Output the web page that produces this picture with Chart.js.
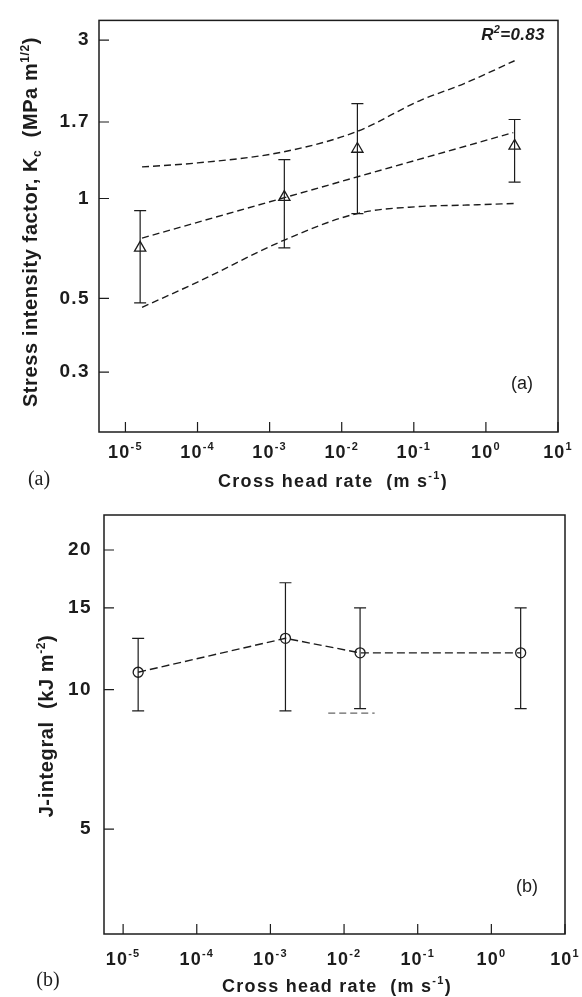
<!DOCTYPE html>
<html>
<head>
<meta charset="utf-8">
<script src="https://cdn.jsdelivr.net/npm/chart.js@4.4.1/dist/chart.umd.min.js"></script>
<style>
  html, body { margin: 0; padding: 0; background: #fff; }
  #wrap { position: relative; width: 582px; height: 997px; }
  canvas { position: absolute; left: 0; }
</style>
</head>
<body>
<div id="wrap">
  <canvas id="chartA" width="582" height="490" style="top:0"></canvas>
  <canvas id="chartB" width="582" height="507" style="top:490px"></canvas>
</div>
<script>
// shared x axis
const rates = [1.6e-5, 1.6e-3, 1.65e-2, 2.5];
const xTickValues = [1e-5, 1e-4, 1e-3, 1e-2, 1e-1, 1e0, 1e1];
const xTickExps = ["-5", "-4", "-3", "-2", "-1", "0", "1"];

// panel (a) : stress intensity factor
const kcMean = [0.71, 1.01, 1.41, 1.44];
const kcHigh = [0.92, 1.31, 1.93, 1.73];
const kcLow = [0.485, 0.71, 0.90, 1.12];
const fitRates = [1.7e-5, 2.4];
const fitKc = [0.76, 1.58];
const bandRates = [1.7e-5, 1e-4, 1.5e-3, 1.6e-2, 0.12, 0.5, 2.5];
const bandUpper = [1.245, 1.28, 1.38, 1.59, 1.97, 2.22, 2.6];
const bandLower = [0.47, 0.56, 0.745, 0.90, 0.946, 0.955, 0.966];
const kcTicks = [0.3, 0.5, 1, 1.7, 3];
const kcTickLabels = ["0.3", "0.5", "1", "1.7", "3"];

// panel (b) : J-integral
const jMean = [10.9, 12.9, 12.0, 12.0];
const jHigh = [12.9, 17.0, 15.0, 15.0];
const jLow = [9.0, 9.0, 9.1, 9.1];
const jTicks = [5, 10, 15, 20];
const jTickLabels = ["5", "10", "15", "20"];
const strayRates = [6.1e-3, 2.6e-2];
const strayJ = [8.9, 8.9];

const ink = "#1c1c1c";
const family = "'Liberation Sans', Arial, sans-serif";

const pts = (xs, ys) => xs.map((x, i) => ({x, y: ys[i]}));

// texts drawn after each chart, keyed by canvas id (functions in options would be scriptable)
const notesById = {};

function richText(ctx, parts, cx, cy, size, weight, spacing, angle) {
  ctx.save();
  ctx.translate(cx, cy);
  ctx.rotate(angle || 0);
  ctx.letterSpacing = spacing + "px";
  ctx.textBaseline = "alphabetic";
  ctx.textAlign = "left";
  ctx.fillStyle = ink;
  const fontFor = kind => `${weight} ${kind ? Math.round(size * 0.62) : size}px ${family}`;
  const widths = parts.map(([t, kind]) => {
    ctx.font = fontFor(kind);
    return ctx.measureText(t).width;
  });
  let xPos = -widths.reduce((s, w) => s + w, 0) / 2;
  parts.forEach(([t, kind], i) => {
    ctx.font = fontFor(kind);
    const dy = kind === "sup" ? -size * 0.42 : kind === "sub" ? size * 0.22 : 0;
    ctx.fillText(t, xPos, dy);
    xPos += widths[i];
  });
  ctx.restore();
}

function plainText(ctx, text, cx, cy, font) {
  ctx.save();
  ctx.letterSpacing = "0px";
  ctx.font = font;
  ctx.fillStyle = ink;
  ctx.textAlign = "center";
  ctx.textBaseline = "middle";
  ctx.fillText(text, cx, cy);
  ctx.restore();
}

// box, inward tick marks, error bars, then the texts
const framePlugin = {
  id: "frame",
  beforeDraw(chart) {
    chart.ctx.letterSpacing = "1.4px";
  },
  beforeDatasetsDraw(chart) {
    const {ctx, chartArea: a, scales: {x, y}} = chart;
    ctx.letterSpacing = "0px";
    ctx.save();
    ctx.strokeStyle = ink;
    ctx.lineWidth = 1.5;
    ctx.strokeRect(a.left, a.top, a.right - a.left, a.bottom - a.top);
    ctx.lineWidth = 1.2;
    ctx.beginPath();
    x.ticks.forEach(t => {
      const px = x.getPixelForValue(t.value);
      ctx.moveTo(px, a.bottom);
      ctx.lineTo(px, a.bottom - 10);
    });
    y.ticks.forEach(t => {
      const py = y.getPixelForValue(t.value);
      ctx.moveTo(a.left, py);
      ctx.lineTo(a.left + 10, py);
    });
    chart.data.datasets.forEach(ds => {
      if (!ds.errHigh) return;
      ds.data.forEach((p, i) => {
        const px = x.getPixelForValue(p.x);
        const top = y.getPixelForValue(ds.errHigh[i]);
        const bot = y.getPixelForValue(ds.errLow[i]);
        ctx.moveTo(px, top); ctx.lineTo(px, bot);
        ctx.moveTo(px - 6, top); ctx.lineTo(px + 6, top);
        ctx.moveTo(px - 6, bot); ctx.lineTo(px + 6, bot);
      });
    });
    ctx.stroke();
    ctx.restore();
  },
  afterDraw(chart) {
    const {ctx, scales: {x}} = chart;
    const baseline = chart.canvas.dataset.tickBaseline;
    // decade labels with a real superscript
    x.ticks.forEach((t, i) => {
      richText(ctx, [["10", ""], [xTickExps[i], "sup"]], x.getPixelForValue(t.value), +baseline, 18, "bold", 1.2, 0);
    });
    const notes = notesById[chart.canvas.id];
    if (notes) notes(ctx);
  },
};

function makeChart(id, opts) {
  const xScale = {
    type: "logarithmic",
    bounds: "data",
    min: opts.xMin,
    max: opts.xMax,
    afterBuildTicks: s => { s.ticks = xTickValues.map(v => ({value: v})); },
    afterFit: s => { s.height = opts.xHeight; },
    grid: {display: false, drawTicks: false},
    border: {display: false},
    ticks: {display: false},
  };
  const yScale = {
    type: "logarithmic",
    bounds: "data",
    min: opts.yMin,
    max: opts.yMax,
    afterBuildTicks: s => { s.ticks = opts.yTicks.map(v => ({value: v})); },
    afterFit: s => { s.width = opts.yWidth; },
    grid: {display: false, drawTicks: false},
    border: {display: false},
    ticks: {
      padding: opts.yPad,
      autoSkip: false,
      color: ink,
      font: {size: 19, weight: "bold"},
      callback: (v, i) => opts.yTickLabels[i],
    },
  };
  notesById[id] = opts.notes;
  const canvas = document.getElementById(id);
  canvas.dataset.tickBaseline = opts.xTickBaseline;
  return new Chart(canvas, {
    type: "scatter",
    data: {datasets: opts.datasets},
    options: {
      responsive: false,
      animation: false,
      layout: {padding: opts.padding},
      scales: {x: xScale, y: yScale},
      plugins: {
        legend: {display: false},
        tooltip: {enabled: false},
      },
    },
    plugins: [framePlugin],
  });
}

Chart.defaults.font.family = family;
Chart.defaults.color = ink;

const dashed = {
  showLine: true,
  borderColor: ink,
  borderWidth: 1.4,
  borderDash: [7, 4],
  pointRadius: 0,
  fill: false,
};

makeChart("chartA", {
  xMin: 4.3e-6, xMax: 10, xHeight: 58, xTickBaseline: 458,
  yMin: 0.198, yMax: 3.44, yWidth: 99, yPad: 9,
  yTicks: kcTicks, yTickLabels: kcTickLabels,
  padding: {top: 14, right: 24, bottom: 0, left: 0},
  datasets: [
    {...dashed, data: pts(bandRates, bandUpper), cubicInterpolationMode: "monotone"},
    {...dashed, data: pts(bandRates, bandLower), cubicInterpolationMode: "monotone"},
    {...dashed, data: pts(fitRates, fitKc)},
    {
      data: pts(rates, kcMean),
      errHigh: kcHigh,
      errLow: kcLow,
      showLine: false,
      pointStyle: "triangle",
      pointRadius: 6.5,
      pointBorderWidth: 1.3,
      pointBorderColor: ink,
      pointBackgroundColor: "rgba(255,255,255,0)",
    },
  ],
  notes: ctx => {
    richText(ctx, [["Stress intensity factor, K", ""], ["c", "sub"], ["  (MPa m", ""], ["1/2", "sup"], [")", ""]],
      37, 222, 20, "bold", 0.6, -Math.PI / 2);
    richText(ctx, [["Cross head rate  (m s", ""], ["-1", "sup"], [")", ""]], 333, 487, 18, "bold", 1.3, 0);
    richText(ctx, [["R", ""], ["2", "sup"], ["=0.83", ""]], 513, 40, 17, "italic bold", 0.3, 0);
    plainText(ctx, "(a)", 522, 384, `18px ${family}`);
    plainText(ctx, "(a)", 39, 480, "20px 'Liberation Serif', 'Times New Roman', serif");
  },
});

makeChart("chartB", {
  xMin: 5.5e-6, xMax: 10, xHeight: 63, xTickBaseline: 475,
  yMin: 2.97, yMax: 23.8, yWidth: 104, yPad: 12,
  yTicks: jTicks, yTickLabels: jTickLabels,
  padding: {top: 25, right: 17, bottom: 0, left: 0},
  datasets: [
    {...dashed, data: pts(strayRates, strayJ), borderColor: "#666", borderWidth: 1.2},
    {
      ...dashed,
      data: pts(rates, jMean),
      errHigh: jHigh,
      errLow: jLow,
      borderDash: [8, 4],
      pointStyle: "circle",
      pointRadius: 5,
      pointBorderWidth: 1.3,
      pointBorderColor: ink,
      pointBackgroundColor: "rgba(255,255,255,0)",
    },
  ],
  notes: ctx => {
    richText(ctx, [["J-integral  (kJ m", ""], ["-2", "sup"], [")", ""]], 53, 236, 20, "bold", 0.6, -Math.PI / 2);
    richText(ctx, [["Cross head rate  (m s", ""], ["-1", "sup"], [")", ""]], 337, 502, 18, "bold", 1.3, 0);
    plainText(ctx, "(b)", 527, 397, `18px ${family}`);
    plainText(ctx, "(b)", 48, 491, "20px 'Liberation Serif', 'Times New Roman', serif");
  },
});
</script>
</body>
</html>
